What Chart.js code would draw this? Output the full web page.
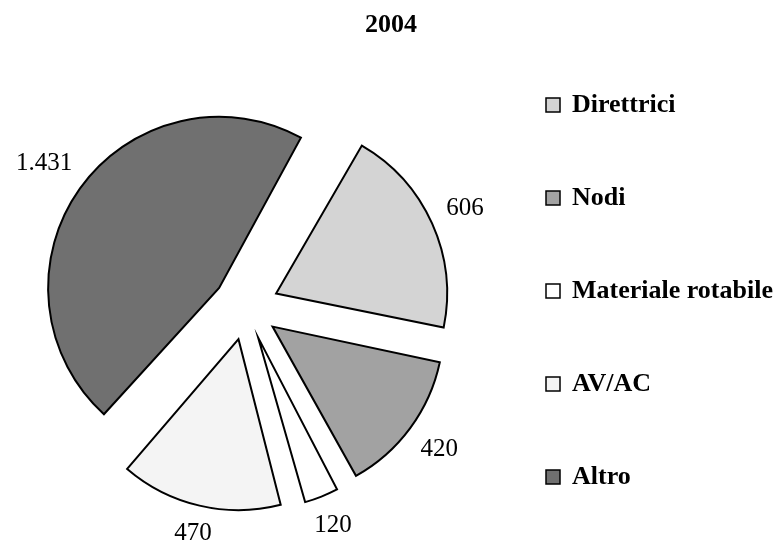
<!DOCTYPE html>
<html>
<head>
<meta charset="utf-8">
<script src="https://cdn.jsdelivr.net/npm/chart.js@4.4.1/dist/chart.umd.min.js"></script>
<style>
  html, body { margin: 0; padding: 0; background: #ffffff; }
  #wrap { position: relative; width: 778px; height: 547px; }
</style>
</head>
<body>
<div id="wrap"><canvas id="c" width="778" height="547"></canvas></div>
<script>
// ---- data ----
const chartTitle = '2004';
const categories = ['Direttrici', 'Nodi', 'Materiale rotabile', 'AV/AC', 'Altro'];
const values = [606, 420, 120, 470, 1431];
const sliceColors = ['#d4d4d4', '#a2a2a2', '#ffffff', '#f4f4f4', '#707070'];

// ---- style constants ----
const SERIF = '"Liberation Serif", "Times New Roman", serif';
const PIE_RADIUS = 171;
const EXPLODE = 33;            // px each slice is pulled out
const LABEL_GAP = 15;

function fmt(v) {
  return String(v).replace(/\B(?=(\d{3})+(?!\d))/g, '.');
}

// Chart.js enlarges the radius of offset arcs by offset/4*(1-sin(circ)); undo that so all slices share one radius
const equalRadius = {
  id: 'equalRadius',
  afterDatasetsUpdate(chart) {
    const meta = chart.getDatasetMeta(0);
    meta.data.forEach(arc => {
      const off = (arc.options.offset || 0) / 4;
      const fix = 1 - Math.sin(Math.min(Math.PI, arc.circumference));
      arc.outerRadius = arc.outerRadius - off * fix;
    });
  }
};

const outsideLabels = {
  id: 'outsideLabels',
  afterDatasetsDraw(chart) {
    const ctx = chart.ctx;
    const meta = chart.getDatasetMeta(0);
    const data = chart.data.datasets[0].data;
    ctx.save();
    ctx.font = '25px ' + SERIF;
    ctx.fillStyle = '#000';
    ctx.textAlign = 'center';
    ctx.textBaseline = 'middle';
    meta.data.forEach((arc, i) => {
      const txt = fmt(data[i]);
      const mid = (arc.startAngle + arc.endAngle) / 2;
      const w = ctx.measureText(txt).width;
      const h = 20;
      const d0 = PIE_RADIUS + EXPLODE + LABEL_GAP;
      const d = d0 + Math.abs(Math.cos(mid)) * w / 2 + Math.abs(Math.sin(mid)) * h / 2;
      ctx.fillText(txt, arc.x + Math.cos(mid) * d, arc.y + Math.sin(mid) * d);
    });
    ctx.restore();
  }
};

const titleAndLegend = {
  id: 'titleAndLegend',
  afterDraw(chart) {
    const ctx = chart.ctx;
    const ds = chart.data.datasets[0];
    ctx.save();
    // title
    ctx.font = 'bold 26px ' + SERIF;
    ctx.fillStyle = '#000';
    ctx.textAlign = 'center';
    ctx.textBaseline = 'alphabetic';
    ctx.fillText(chartTitle, 391, 32);
    // legend
    const boxX = 546, textX = 572, firstBase = 112, step = 93, box = 14;
    ctx.textAlign = 'left';
    chart.data.labels.forEach((lab, i) => {
      const base = firstBase + i * step;
      ctx.fillStyle = ds.backgroundColor[i];
      ctx.fillRect(boxX, base - box, box, box);
      ctx.lineWidth = 1.5;
      ctx.strokeStyle = '#000';
      ctx.strokeRect(boxX, base - box, box, box);
      ctx.fillStyle = '#000';
      ctx.fillText(lab, textX, base);
    });
    ctx.restore();
  }
};

new Chart(document.getElementById('c'), {
  type: 'pie',
  data: {
    labels: categories,
    datasets: [{
      data: values,
      backgroundColor: sliceColors,
      borderColor: '#000000',
      borderWidth: 2,
      borderJoinStyle: 'miter',
      offset: EXPLODE * 4,
      hoverOffset: 0,
      radius: PIE_RADIUS,
      clip: false
    }]
  },
  options: {
    responsive: false,
    devicePixelRatio: 1,
    animation: false,
    events: [],
    rotation: 30,
    layout: { padding: { left: 14, right: 300, top: 67, bottom: 0 } },
    plugins: {
      legend: { display: false },
      title: { display: false },
      tooltip: { enabled: false }
    }
  },
  plugins: [equalRadius, outsideLabels, titleAndLegend]
});
</script>
</body>
</html>
